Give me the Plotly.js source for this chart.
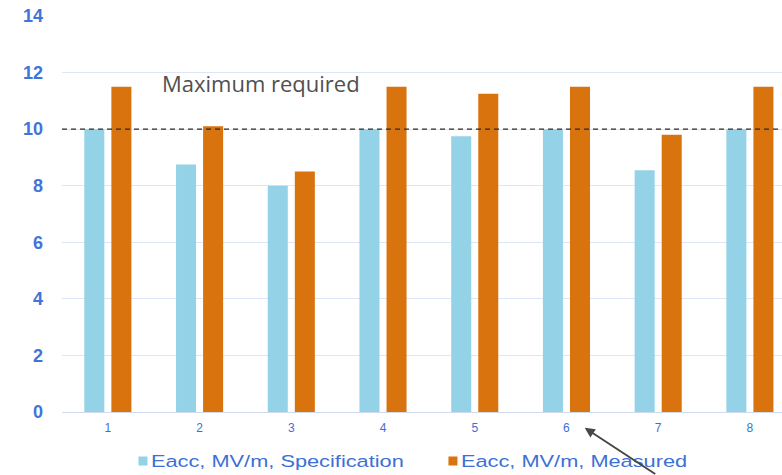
<!DOCTYPE html>
<html>
<head>
<meta charset="utf-8">
<script src="https://cdn.plot.ly/plotly-3.0.1.min.js"></script>
<style>
  html, body { margin: 0; padding: 0; background: #fff; }
  #chart { width: 782px; height: 475px; }
  /* wide legend lettering */
  .legendtext {
    transform-box: fill-box;
    transform-origin: 0 50%;
    transform: scaleX(1.32);
  }
  /* small legend swatches sitting close to their labels */
  .legend .legendpoints path {
    transform: translate(32px, 0) scale(0.75) !important;
  }
</style>
</head>
<body>
<div id="chart"></div>
<script>
// Cavity numbers and accelerating gradients (MV/m)
const cavities = [1, 2, 3, 4, 5, 6, 7, 8];
const tickLabels = ['1', '2', '3', '4', '5', '6', '7', '8'];
const specification = [10, 8.75, 8.0, 10, 9.75, 10, 8.55, 10];
const measured = [11.5, 10.1, 8.5, 11.5, 11.25, 11.5, 9.8, 11.5];
const maxRequired = 10;

const blue = '#3d6fd6';

const traces = [
  {
    type: 'bar',
    name: 'Eacc, MV/m, Specification',
    x: cavities,
    y: specification,
    marker: { color: '#93d2e7' }
  },
  {
    type: 'bar',
    name: 'Eacc, MV/m, Measured',
    x: cavities,
    y: measured,
    marker: { color: '#d9730d' }
  }
];

const layout = {
  width: 782,
  height: 475,
  margin: { l: 62, r: 0, t: 16, b: 63, autoexpand: false },
  paper_bgcolor: '#ffffff',
  plot_bgcolor: '#ffffff',
  barmode: 'group',
  bargap: 0.41,
  bargroupgap: 0.26,
  showlegend: true,
  legend: {
    orientation: 'h',
    xanchor: 'left', x: 0.068,
    yanchor: 'top', y: -0.08,
    entrywidth: 265,
    entrywidthmode: 'pixels',
    font: { family: 'Liberation Sans, Arial, sans-serif', size: 16.5, color: blue },
    tracegroupgap: 0
  },
  xaxis: {
    range: [0.5, 8.35],
    tickvals: cavities,
    ticktext: tickLabels,
    showgrid: false,
    zeroline: false,
    showline: true,
    linecolor: '#cfdaef',
    linewidth: 1,
    ticks: '',
    ticklabelstandoff: 5,
    tickfont: { family: 'Liberation Sans, Arial, sans-serif', size: 12, color: blue },
    fixedrange: true
  },
  yaxis: {
    range: [0, 14],
    dtick: 2,
    showgrid: true,
    gridcolor: '#dce6f6',
    gridwidth: 1,
    zeroline: false,
    showline: false,
    ticks: '',
    ticklabelstandoff: 18,
    tickfont: { family: 'Liberation Sans, Arial, sans-serif', size: 18, weight: 'bold', color: '#4174d9' },
    fixedrange: true
  },
  shapes: [
    {
      type: 'line',
      xref: 'paper', yref: 'y',
      x0: 0, x1: 1,
      y0: maxRequired, y1: maxRequired,
      line: { color: '#2a2a2a', width: 1.3, dash: '5px,4px' }
    }
  ],
  annotations: [
    {
      xref: 'x', yref: 'y',
      x: 2.67, y: 11.62,
      text: 'Maximum required',
      showarrow: false,
      xanchor: 'center', yanchor: 'middle',
      font: { family: 'Open Sans, sans-serif', size: 22, color: '#505050' }
    },
    {
      xref: 'paper', yref: 'paper',
      x: 0.726, y: -0.04,
      text: '',
      showarrow: true,
      arrowhead: 2,
      arrowsize: 1,
      arrowwidth: 2,
      arrowcolor: '#474747',
      ax: 72, ay: 51
    }
  ]
};

Plotly.newPlot('chart', traces, layout, { displayModeBar: false, staticPlot: true });
</script>
</body>
</html>
